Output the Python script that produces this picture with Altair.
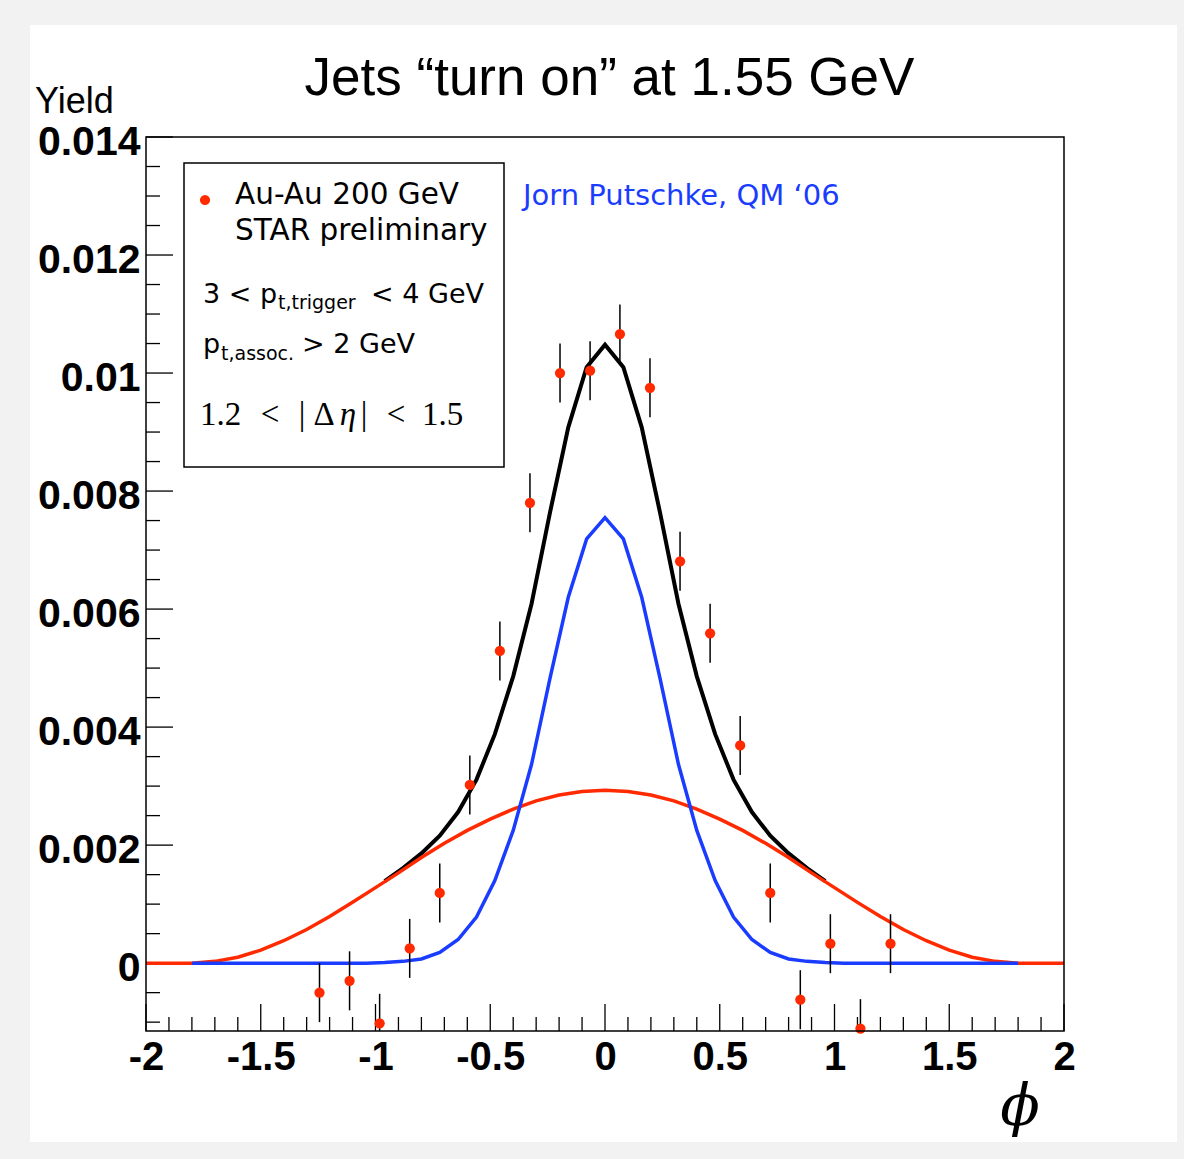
import altair as alt
import pandas as pd

# ---- measured yields (bin centres in phi, yield, statistical error) ----
phi_bins = [-1.244, -1.113, -0.982, -0.851, -0.720, -0.589, -0.458, -0.327, -0.196, -0.065,
            0.065, 0.196, 0.327, 0.458, 0.589, 0.720, 0.851, 0.982, 1.113, 1.244]
yield_vals = [-0.00050, -0.00030, -0.00102, 0.00025, 0.00119, 0.00302, 0.00529, 0.00780, 0.01000, 0.01004,
              0.01066, 0.00975, 0.00681, 0.00559, 0.00369, 0.00119, -0.00062, 0.00033, -0.00111, 0.00033]
yield_errs = [0.0005, 0.0005, 0.0005, 0.0005, 0.0005, 0.0005, 0.0005, 0.0005, 0.0005, 0.0005,
              0.0005, 0.0005, 0.0005, 0.0005, 0.0005, 0.0005, 0.0005, 0.0005, 0.0005, 0.0005]

# ---- fit components ----
# broad (ridge-like) component
wide_x = [-2.0, -1.9, -1.8, -1.7, -1.6, -1.5, -1.4, -1.3, -1.2, -1.1, -1.0, -0.9, -0.8, -0.7,
          -0.6, -0.5, -0.4, -0.3, -0.2, -0.1, 0.0, 0.1, 0.2, 0.3, 0.4, 0.5, 0.6, 0.7, 0.8, 0.9,
          1.0, 1.1, 1.2, 1.3, 1.4, 1.5, 1.6, 1.7, 1.8, 1.9, 2.0]
wide_y = [0.0, 0.0, 0.0, 0.00003, 0.00010, 0.00022, 0.00038, 0.00057, 0.00079, 0.00103, 0.00128,
          0.00153, 0.00179, 0.00203, 0.00225, 0.00244, 0.00261, 0.00275, 0.00285, 0.00291, 0.00293,
          0.00291, 0.00285, 0.00275, 0.00261, 0.00244, 0.00225, 0.00203, 0.00179, 0.00153, 0.00128,
          0.00103, 0.00079, 0.00057, 0.00038, 0.00022, 0.00010, 0.00003, 0.0, 0.0, 0.0]

# narrow (jet-like) component
jet_x = [-1.8, -1.04, -0.96, -0.88, -0.80, -0.72, -0.64, -0.56, -0.48, -0.40, -0.32, -0.24, -0.16, -0.08,
         0.0, 0.08, 0.16, 0.24, 0.32, 0.40, 0.48, 0.56, 0.64, 0.72, 0.80, 0.88, 0.96, 1.04, 1.8]
jet_y = [0.0, 0.0, 0.00001, 0.00003, 0.00007, 0.00018, 0.00040, 0.00078, 0.00140, 0.00225, 0.00337,
         0.00482, 0.00620, 0.00719, 0.00755, 0.00719, 0.00620, 0.00482, 0.00337, 0.00225, 0.00140,
         0.00078, 0.00040, 0.00018, 0.00007, 0.00003, 0.00001, 0.0, 0.0]

# total fit
sum_x = [-0.96, -0.88, -0.80, -0.72, -0.64, -0.56, -0.48, -0.40, -0.32, -0.24, -0.16, -0.08, 0.0,
         0.08, 0.16, 0.24, 0.32, 0.40, 0.48, 0.56, 0.64, 0.72, 0.80, 0.88, 0.96]
sum_y = [0.00139, 0.00161, 0.00186, 0.00216, 0.00256, 0.00311, 0.00388, 0.00486, 0.00609, 0.00763,
         0.00908, 0.01010, 0.01048, 0.01010, 0.00908, 0.00763, 0.00609, 0.00486, 0.00388, 0.00311,
         0.00256, 0.00216, 0.00186, 0.00161, 0.00139]

# ---- axis ticks ----
x_major = [-2, -1.5, -1, -0.5, 0, 0.5, 1, 1.5, 2]
x_minor = [-1.9, -1.8, -1.7, -1.6, -1.4, -1.3, -1.2, -1.1, -0.9, -0.8, -0.7, -0.6, -0.4, -0.3, -0.2, -0.1,
           0.1, 0.2, 0.3, 0.4, 0.6, 0.7, 0.8, 0.9, 1.1, 1.2, 1.3, 1.4, 1.6, 1.7, 1.8, 1.9]
y_major = [0, 0.002, 0.004, 0.006, 0.008, 0.010, 0.012, 0.014]
y_minor = [-0.001, -0.0005, 0.0005, 0.001, 0.0015, 0.0025, 0.003, 0.0035, 0.0045, 0.005, 0.0055,
           0.0065, 0.007, 0.0075, 0.0085, 0.009, 0.0095, 0.0105, 0.011, 0.0115, 0.0125, 0.013, 0.0135]

RED = "#ff2a00"
BLUE = "#1a3cff"
W, H = 918, 894

pts = pd.DataFrame({"phi": phi_bins, "y": yield_vals, "err": yield_errs})
pts["lo"] = pts["y"] - pts["err"]
pts["hi"] = pts["y"] + pts["err"]

x_scale = alt.Scale(domain=[-2, 2], nice=False, zero=False)
y_scale = alt.Scale(domain=[-0.00115, 0.014], nice=False, zero=False)

x_axis = alt.Axis(values=x_major, title=None, grid=False, ticks=False, domain=False, zindex=2,
                  labelFont="Liberation Sans", labelFontWeight="bold", labelFontSize=40,
                  labelColor="black", labelPadding=6, labelFlush=False, labelOverlap=False,
                  labelExpr="replace(format(datum.value, '~g'), '\u2212', '-')")
y_axis = alt.Axis(values=y_major, title=None, grid=False, ticks=False, domain=False, zindex=2,
                  labelFont="Liberation Sans", labelFontWeight="bold", labelFontSize=41,
                  labelColor="black", labelPadding=6, labelOverlap=False, labelOffset=5,
                  labelExpr="replace(format(datum.value, '~g'), '\u2212', '-')")

X = alt.X("phi:Q", scale=x_scale, axis=x_axis)
Y = alt.Y("y:Q", scale=y_scale, axis=y_axis)

one = pd.DataFrame({"k": [0]})


def text(txt, x, y, size, font="DejaVu Sans", color="black", align="left", **kw):
    return alt.Chart(one).mark_text(text=txt, align=align, baseline="alphabetic", font=font,
                                    fontSize=size, color=color, **kw).encode(
        x=alt.value(x), y=alt.value(y))


# white slide panel behind everything
panel = alt.Chart(one).mark_rect(color="white").encode(
    x=alt.value(-116), x2=alt.value(1031), y=alt.value(-112), y2=alt.value(1005))

# inward ticks
xt_major = alt.Chart(pd.DataFrame({"phi": x_major})).mark_rule(color="black", strokeWidth=1.3).encode(
    x=X, y=alt.value(H), y2=alt.value(H - 27))
xt_minor = alt.Chart(pd.DataFrame({"phi": x_minor})).mark_rule(color="black", strokeWidth=1.3).encode(
    x=X, y=alt.value(H), y2=alt.value(H - 14))
yt_major = alt.Chart(pd.DataFrame({"y": y_major})).mark_rule(color="black", strokeWidth=1.3).encode(
    y=Y, x=alt.value(0), x2=alt.value(27))
yt_minor = alt.Chart(pd.DataFrame({"y": y_minor})).mark_rule(color="black", strokeWidth=1.3).encode(
    y=Y, x=alt.value(0), x2=alt.value(14))

total = alt.Chart(pd.DataFrame({"phi": sum_x, "y": sum_y})).mark_line(
    color="black", strokeWidth=4).encode(x=X, y=Y)
wide = alt.Chart(pd.DataFrame({"phi": wide_x, "y": wide_y})).mark_line(
    color=RED, strokeWidth=3.5).encode(x=X, y=Y)
jet = alt.Chart(pd.DataFrame({"phi": jet_x, "y": jet_y})).mark_line(
    color=BLUE, strokeWidth=3.5).encode(x=X, y=Y)

errbars = alt.Chart(pts).mark_rule(color="black", strokeWidth=1.5, clip=True).encode(
    x=X, y=alt.Y("lo:Q", scale=y_scale, axis=y_axis), y2="hi:Q")
dots = alt.Chart(pts).mark_point(filled=True, color=RED, size=105, opacity=1).encode(x=X, y=Y)

# legend box
box = alt.Chart(one).mark_rect(fill="white", stroke="black", strokeWidth=1.5).encode(
    x=alt.value(38), x2=alt.value(358), y=alt.value(26), y2=alt.value(330))
box_dot = alt.Chart(one).mark_point(filled=True, color=RED, size=105, opacity=1).encode(
    x=alt.value(59), y=alt.value(63))

frame = alt.Chart(one).mark_rect(filled=False, stroke="black", strokeWidth=1.5).encode(
    x=alt.value(0), x2=alt.value(W), y=alt.value(0), y2=alt.value(H))

labels = [
    text("Au-Au 200 GeV", 89, 67, 29.5),
    text("STAR preliminary", 89, 103, 29.5),
    text("3 < p", 57, 166, 27),
    text("t,trigger", 132, 172, 19),
    text("< 4 GeV", 225, 166, 27),
    text("p", 57, 216, 27),
    text("t,assoc.", 75, 223, 19),
    text("> 2 GeV", 156, 216, 27),
    text("1.2", 54, 288, 33, font="Liberation Serif"),
    text("<", 124, 288, 33, font="Liberation Serif", align="center"),
    text("|", 156, 288, 33, font="Liberation Serif", align="center"),
    text("\u0394", 178, 288, 33, font="Liberation Serif", align="center"),
    text("\u03b7", 202, 288, 33, font="Liberation Serif", align="center", fontStyle="italic"),
    text("|", 218, 288, 33, font="Liberation Serif", align="center"),
    text("<", 250, 288, 33, font="Liberation Serif", align="center"),
    text("1.5", 276, 288, 33, font="Liberation Serif"),
    text("Jorn Putschke, QM \u201806", 377, 68, 29, color=BLUE),
    text("Jets \u201cturn on\u201d at 1.55 GeV", 463.5, -42, 53, font="Liberation Sans", align="center"),
    text("Yield", -111, -24, 36, font="Liberation Sans"),
    text("\u03d5", 874, 988, 58, font="DejaVu Serif", align="center", fontStyle="italic"),
]

chart = alt.layer(
    panel, xt_major, xt_minor, yt_major, yt_minor,
    total, wide, jet, errbars, dots,
    box, box_dot, frame, *labels,
).properties(
    width=W, height=H,
    autosize=alt.AutoSizeParams(type="none"),
    padding={"left": 146, "top": 137, "right": 120, "bottom": 128},
    background="#f2f2f2",
).configure_view(strokeWidth=0)

chart.save("out.html", embed_options={"renderer": "svg", "actions": False})
